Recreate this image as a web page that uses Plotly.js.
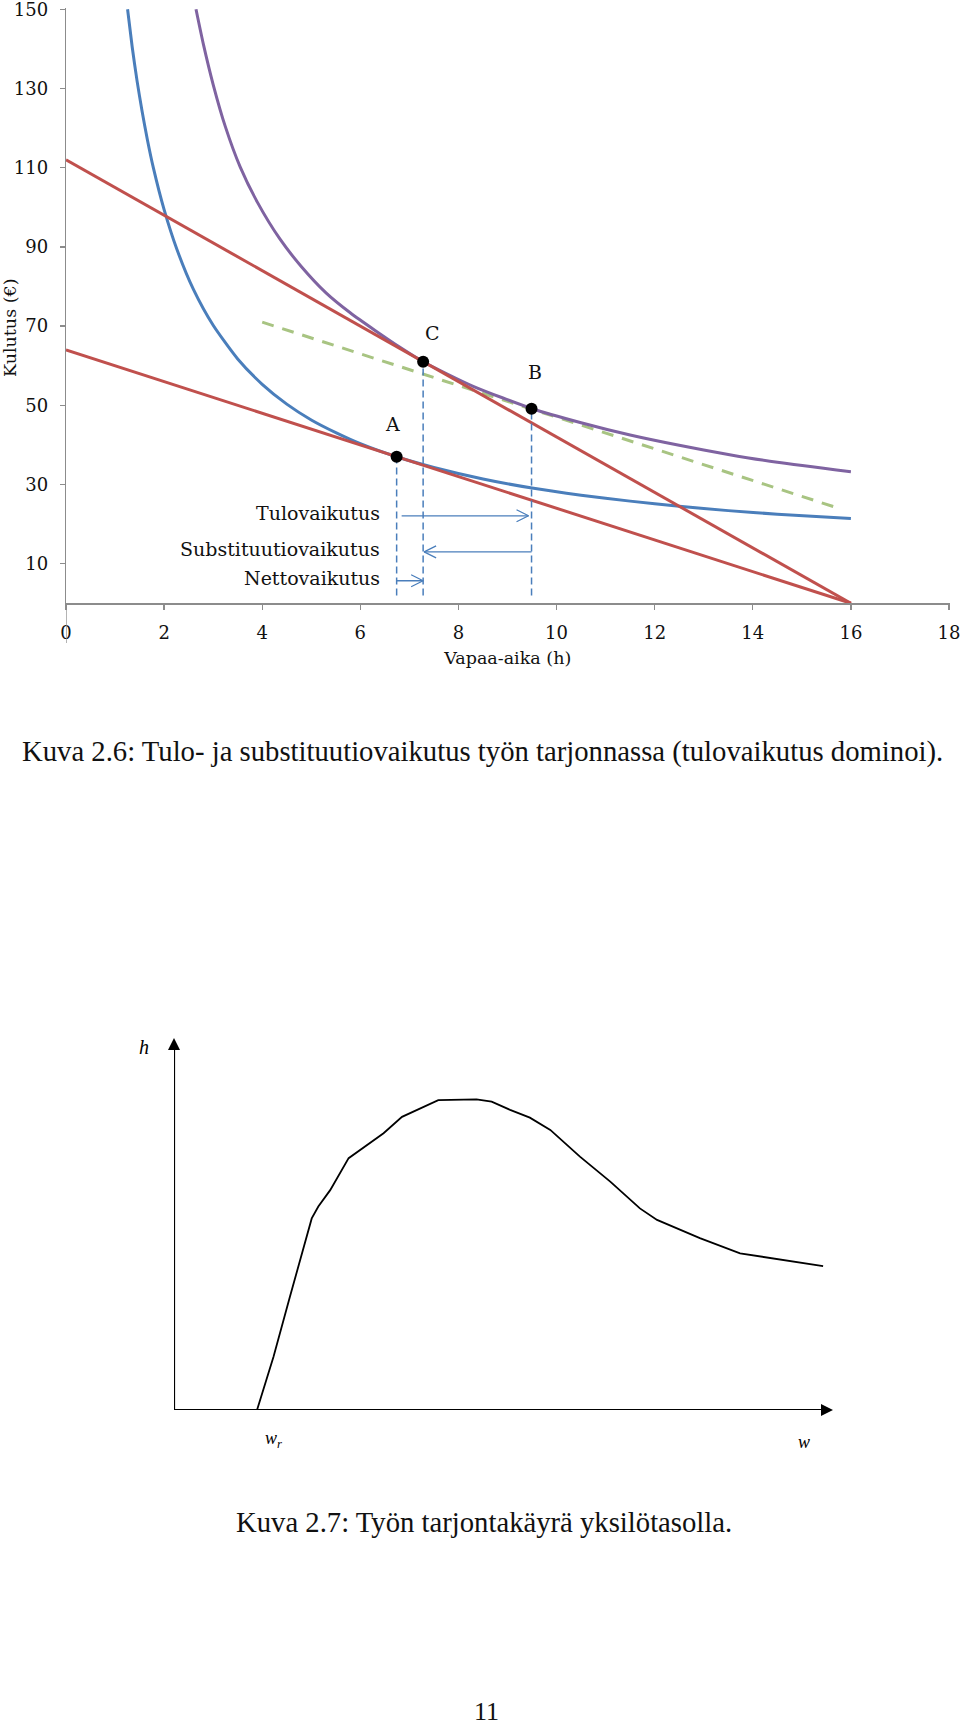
<!DOCTYPE html>
<html>
<head>
<meta charset="utf-8">
<script src="https://cdn.plot.ly/plotly-3.0.1.min.js"></script>
<style>
html,body{margin:0;padding:0;background:#ffffff;}
#page{width:960px;height:1728px;}
</style>
</head>
<body>
<div id="page"></div>
<script>
// ---------- Kuva 2.6 data ----------
const lowBudgetX = [0, 16];
const lowBudgetY = [64, 0];
const highBudgetX = [0, 16];
const highBudgetY = [112, 0];
const compBudgetX = [4, 15.8];
const compBudgetY = [71, 23.8];

const u1X = [1.255, 1.35, 1.45, 1.55, 1.66, 1.78, 2.0, 2.26, 2.6, 3.0, 3.5, 4.0, 4.5, 5.0, 5.5, 6.0, 6.74, 7.5, 8.5, 9.5, 10.5, 11.5, 12.5, 13.5, 14.5, 16.0];
const u1Y = [150, 140.4, 131.8, 124.3, 117.0, 110.0, 99.4, 89.4, 79.2, 70.2, 61.7, 55.3, 50.3, 46.3, 43.1, 40.3, 37.0, 34.3, 31.4, 29.1, 27.3, 25.8, 24.5, 23.4, 22.5, 21.4];

const u2X = [2.65, 2.8, 3.0, 3.25, 3.55, 3.9, 4.36, 4.8, 5.3, 5.8, 6.3, 6.8, 7.28, 8.3, 9.49, 10.5, 11.5, 12.5, 13.5, 14.5, 16.0];
const u2Y = [150, 141.2, 131, 120.3, 110.2, 101.3, 92.0, 85.0, 78.4, 73.3, 68.9, 64.7, 61, 54.8, 49.2, 45.6, 42.5, 39.9, 37.6, 35.6, 33.2];

const pointNames = ['A', 'B', 'C'];
const pointX = [6.74, 9.49, 7.28];
const pointY = [37.0, 49.1, 61.0];
const dropFloor = 2;

const effectNames = ['Tulovaikutus', 'Substituutiovaikutus', 'Nettovaikutus'];
const effectFrom = ['A', 'B', 'A'];
const effectTo = ['B', 'C', 'C'];
const effectY = [22.1, 13.0, 5.7];

const xTickVals = [0, 2, 4, 6, 8, 10, 12, 14, 16, 18];
const yTickVals = [10, 30, 50, 70, 90, 110, 130, 150];

// ---------- Kuva 2.7 data ----------
const supplyW = [12.6, 15.1, 17.6, 19.4, 20.9, 21.9, 23.7, 26.5, 29.2, 31.8, 34.6, 37.3, 40.1, 45.9, 48.2, 51.0, 54.0, 57.1, 61.6, 66.2, 70.7, 73.3, 79.8, 85.9, 92.5, 98.5];
const supplyH = [0, 14.3, 30.5, 42.1, 51.5, 54.7, 59.1, 67.7, 71.2, 74.4, 78.8, 81.1, 83.3, 83.5, 82.9, 80.7, 78.6, 75.3, 68.1, 61.4, 54.2, 51.1, 46.2, 42.1, 40.3, 38.7];

// ---------- styles / geometry ----------
const W = 960, H = 1728;
const RED = '#C0504D', BLUE = '#4A7EBB', PURPLE = '#7F63A1', GREEN = '#A8C482', AXIS = '#8C8C8C';
const SERIF = 'DejaVu Serif';
const CM = 'Liberation Serif';
const px = v => v / W;
const py = v => 1 - v / H;
const idx = n => pointNames.indexOf(n);

const X1 = [66, 949.5], Y1 = [603.3, 8.1], XR1 = [0, 18.01], YR1 = [0, 150.3];
const xPerPx = (XR1[1] - XR1[0]) / (X1[1] - X1[0]);
const yPerPx = (YR1[1] - YR1[0]) / (Y1[0] - Y1[1]);
const X2 = [174, 833], Y2 = [1410, 1038];
const x2PerPx = 100 / (X2[1] - X2[0]);
const y2PerPx = 100 / (Y2[0] - Y2[1]);

const traces = [];
traces.push({x: compBudgetX, y: compBudgetY, mode: 'lines', line: {color: GREEN, width: 3, dash: '12px,9px'}, xaxis: 'x', yaxis: 'y', hoverinfo: 'skip'});
traces.push({x: u1X, y: u1Y, mode: 'lines', line: {color: BLUE, width: 3, shape: 'spline', smoothing: 0.6}, xaxis: 'x', yaxis: 'y', hoverinfo: 'skip'});
traces.push({x: u2X, y: u2Y, mode: 'lines', line: {color: PURPLE, width: 3, shape: 'spline', smoothing: 0.6}, xaxis: 'x', yaxis: 'y', hoverinfo: 'skip'});
traces.push({x: highBudgetX, y: highBudgetY, mode: 'lines', line: {color: RED, width: 3}, xaxis: 'x', yaxis: 'y', hoverinfo: 'skip'});
traces.push({x: lowBudgetX, y: lowBudgetY, mode: 'lines', line: {color: RED, width: 3}, xaxis: 'x', yaxis: 'y', hoverinfo: 'skip'});
pointNames.forEach((n, i) => {
  traces.push({x: [pointX[i], pointX[i]], y: [dropFloor, pointY[i]], mode: 'lines',
    line: {color: BLUE, width: 1.5, dash: '7px,4px'}, xaxis: 'x', yaxis: 'y', hoverinfo: 'skip'});
});
// effect arrows (thin line + open V head)
const startGapPx = [5, 0, 0], endGapPx = [3, 1, 0];
const headLen = 12 * xPerPx, headHalf = 6 * yPerPx;
effectNames.forEach((name, i) => {
  const fx0 = pointX[idx(effectFrom[i])], tx0 = pointX[idx(effectTo[i])];
  const d = Math.sign(tx0 - fx0);
  const fx = fx0 + d * startGapPx[i] * xPerPx;
  const tx = tx0 - d * endGapPx[i] * xPerPx;
  const y = effectY[i];
  traces.push({x: [fx, tx, null, tx - d * headLen, tx, tx - d * headLen],
    y: [y, y, null, y + headHalf, y, y - headHalf], mode: 'lines',
    line: {color: BLUE, width: 1.3}, xaxis: 'x', yaxis: 'y', hoverinfo: 'skip'});
});
traces.push({x: pointX, y: pointY, mode: 'markers', marker: {color: '#000', size: 12}, xaxis: 'x', yaxis: 'y', hoverinfo: 'skip'});

// Kuva 2.7: axes with arrowheads, and the curve
const tipBackX = 6 * x2PerPx, tipBackY = 6 * y2PerPx;
traces.push({x: [0, 0, 100 - tipBackX], y: [100 - tipBackY, 0, 0], mode: 'lines',
  line: {color: '#000', width: 2.2}, xaxis: 'x2', yaxis: 'y2', hoverinfo: 'skip'});
traces.push({x: [100], y: [0], mode: 'markers', marker: {symbol: 'arrow-right', size: 12, color: '#000'},
  xaxis: 'x2', yaxis: 'y2', hoverinfo: 'skip', cliponaxis: false});
traces.push({x: [0], y: [100], mode: 'markers', marker: {symbol: 'arrow-up', size: 12, color: '#000'},
  xaxis: 'x2', yaxis: 'y2', hoverinfo: 'skip', cliponaxis: false});
traces.push({x: supplyW, y: supplyH, mode: 'lines', line: {color: '#000', width: 1.8}, xaxis: 'x2', yaxis: 'y2', hoverinfo: 'skip'});

const annotations = [];
// point labels
const labelShift = {A: [-4, 33], B: [3, 37], C: [9, 29]};
pointNames.forEach((n, i) => {
  annotations.push({xref: 'x', yref: 'y', x: pointX[i], y: pointY[i], text: n, showarrow: false,
    xshift: labelShift[n][0], yshift: labelShift[n][1], font: {family: SERIF, size: 19, color: '#111'}});
});
// effect labels
effectNames.forEach((name, i) => {
  annotations.push({xref: 'x', yref: 'y', x: pointX[idx('A')], y: effectY[i], text: name, showarrow: false,
    xanchor: 'right', xshift: -15, yshift: 3, font: {family: SERIF, size: 19, color: '#111'}});
});
// y title for Kuva 2.6
annotations.push({xref: 'paper', yref: 'paper', x: px(10), y: py(328), text: 'Kulutus (€)', textangle: -90,
  showarrow: false, xanchor: 'center', yanchor: 'middle', font: {family: SERIF, size: 17.5, color: '#111'}});
// Kuva 2.7 labels
annotations.push({xref: 'paper', yref: 'paper', x: px(144), y: py(1047), text: '<i>h</i>', showarrow: false,
  xanchor: 'center', yanchor: 'middle', font: {family: CM, size: 20, color: '#000'}});
annotations.push({xref: 'paper', yref: 'paper', x: px(273), y: py(1439), text: '<i>w<sub>r</sub></i>', showarrow: false,
  xanchor: 'center', yanchor: 'middle', font: {family: CM, size: 18, color: '#000'}});
annotations.push({xref: 'paper', yref: 'paper', x: px(804), y: py(1442), text: '<i>w</i>', showarrow: false,
  xanchor: 'center', yanchor: 'middle', font: {family: CM, size: 18, color: '#000'}});
// captions and page number
annotations.push({xref: 'paper', yref: 'paper', x: px(482), y: py(752), showarrow: false, xanchor: 'center', yanchor: 'middle',
  text: 'Kuva 2.6: Tulo- ja substituutiovaikutus työn tarjonnassa (tulovaikutus dominoi).',
  font: {family: CM, size: 28.7, color: '#111'}});
annotations.push({xref: 'paper', yref: 'paper', x: px(484), y: py(1522), showarrow: false, xanchor: 'center', yanchor: 'middle',
  text: 'Kuva 2.7: Työn tarjontakäyrä yksilötasolla.',
  font: {family: CM, size: 28.7, color: '#111'}});
annotations.push({xref: 'paper', yref: 'paper', x: px(486), y: py(1711), showarrow: false, xanchor: 'center', yanchor: 'middle',
  text: '11', font: {family: CM, size: 26, color: '#111'}});

const layout = {
  width: W, height: H,
  margin: {l: 0, r: 0, t: 0, b: 0},
  paper_bgcolor: '#ffffff', plot_bgcolor: 'rgba(0,0,0,0)',
  showlegend: false,
  font: {family: SERIF, color: '#111'},
  xaxis: {domain: [px(X1[0]), px(X1[1])], anchor: 'y', range: XR1, tickvals: xTickVals,
    showgrid: false, zeroline: false, showline: true, linecolor: AXIS, linewidth: 1.3,
    ticks: 'outside', ticklen: 5, tickcolor: AXIS, tickwidth: 1.3, ticklabelstandoff: 8,
    ticklabeloverflow: 'allow', tickfont: {family: SERIF, size: 18, color: '#111'},
    title: {text: 'Vapaa-aika (h)', font: {family: SERIF, size: 17.5, color: '#111'}, standoff: 9}},
  yaxis: {domain: [py(Y1[0]), py(Y1[1])], anchor: 'x', range: YR1, tickvals: yTickVals,
    showgrid: false, zeroline: false, showline: true, linecolor: AXIS, linewidth: 1.3,
    ticks: 'outside', ticklen: 5, tickcolor: AXIS, tickwidth: 1.3, ticklabelstandoff: 8,
    ticklabeloverflow: 'allow', tickfont: {family: SERIF, size: 18, color: '#111'}},
  xaxis2: {domain: [px(X2[0]), px(X2[1])], anchor: 'y2', range: [0, 100], visible: false, fixedrange: true},
  yaxis2: {domain: [py(Y2[0]), py(Y2[1])], anchor: 'x2', range: [0, 100], visible: false, fixedrange: true},
  shapes: [
    {type: 'line', xref: 'x', yref: 'paper', x0: 0, x1: 0, y0: py(603.3), y1: py(643), line: {color: AXIS, width: 1.3}}
  ],
  annotations: annotations
};

Plotly.newPlot('page', traces, layout, {staticPlot: true, displayModeBar: false});
</script>
</body>
</html>
